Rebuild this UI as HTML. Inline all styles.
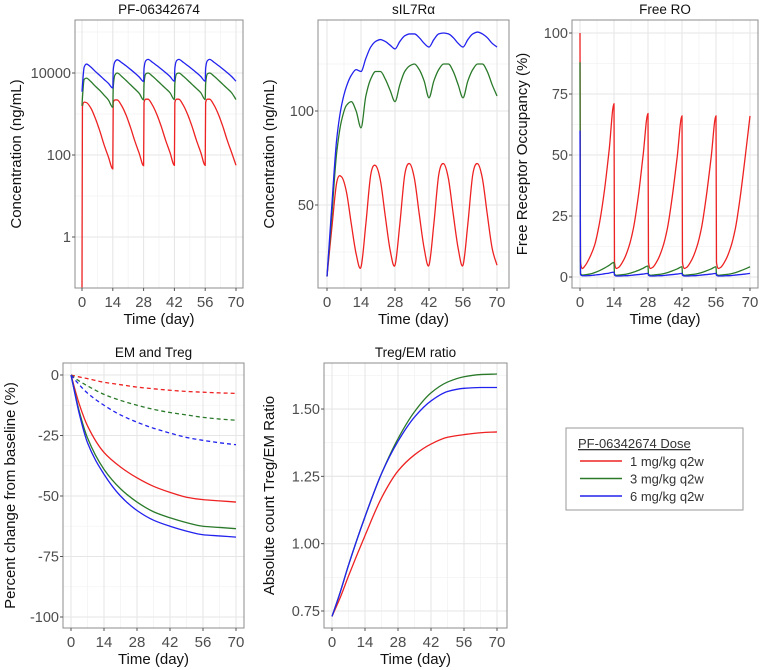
<!DOCTYPE html>
<html><head><meta charset="utf-8"><style>
body{margin:0;background:#fff;}
svg{display:block;font-family:"Liberation Sans",Arial,sans-serif;}
</style></head><body>
<svg id="chart" width="768" height="670" viewBox="0 0 768 670"></svg>
<script>
// ---------- data ----------
const doseLabels = ["1 mg/kg q2w","3 mg/kg q2w","6 mg/kg q2w"];
const xTicks = [0,14,28,42,56,70];
// PK and RO shared time grid
const tPK = [0,0.2,1,2,4,6,8,10,12, 14,14.2,15,16,18,20,22,24,26, 28,28.2,29,30,32,34,36,38,40, 42,42.2,43,44,46,48,50,52,54, 56,56.2,57,58,60,62,64,66,68, 70];
const pkRed = [0.05,1500,1950,1900,1400,800,400,180,90, 46,1900,2200,2200,1600,950,480,220,110, 55,1900,2300,2300,1650,980,500,230,115, 56,1900,2300,2300,1650,980,500,230,115, 56,1900,2300,2300,1650,980,500,230,115, 56];
const pkGreen = [1570,2500,7000,7500,6200,4800,3800,2900,2200, 1450,4500,9000,10000,8300,6600,5200,4100,3200, 2200,5500,9500,10000,8400,6700,5300,4200,3300, 2250,5500,9500,10000,8400,6700,5300,4200,3300, 2250,5500,9500,10000,8400,6700,5300,4200,3300, 2250];
const pkBlue = [3500,5000,14000,16500,14000,11000,8800,7000,5600, 4300,12000,19000,21000,18000,15000,12300,10000,8000, 6200,13000,20000,21500,18300,15200,12500,10200,8200, 6300,13000,20000,21500,18300,15200,12500,10200,8200, 6300,13000,20000,21500,18300,15200,12500,10200,8200, 6300];
const roRed = [100,6,3.5,4.5,8,13,22,35,52, 71,6,3.5,4,7,12,20,33,50, 67,6,3.5,4,7,12,20,33,49, 66,6,3.5,4,7,12,20,33,49, 66,6,3.5,4,7,12,20,33,49, 66];
const roGreen = [88,1.5,0.8,0.9,1.2,1.8,2.6,3.6,4.8, 6,1.2,0.7,0.8,1,1.4,2,2.7,3.6, 4.5,1.1,0.7,0.8,1,1.3,1.8,2.5,3.3, 4.2,1.1,0.7,0.8,1,1.3,1.8,2.5,3.3, 4.2,1.1,0.7,0.8,1,1.3,1.8,2.5,3.3, 4.2];
const roBlue = [60,1,0.5,0.5,0.6,0.8,1,1.3,1.6, 2,0.8,0.4,0.4,0.5,0.6,0.8,1,1.2, 1.5,0.7,0.4,0.4,0.5,0.6,0.8,1,1.2, 1.5,0.7,0.4,0.4,0.5,0.6,0.8,1,1.2, 1.5,0.7,0.4,0.4,0.5,0.6,0.8,1,1.2, 1.5];
// sIL7Ra, every 2 days
const tS = [0,2,4,6,8,10,12,14,16,18,20,22,24,26,28,30,32,34,36,38,40,42,44,46,48,50,52,54,56,58,60,62,64,66,68,70];
const sRed = [12,38,62,65,57,40,24, 17,40,66,71,63,44,26, 18,40,66,72,64,45,27, 18,40,66,72,64,45,27, 18,40,66,72,64,45,27, 18];
const sGreen = [12,45,78,95,103,105,100, 91,108,117,121,121,117,111, 105,114,121,124,125,122,116, 107,116,122,125,125,121,114, 107,116,122,125,125,121,114, 108];
const sBlue = [12,50,85,103,113,119,122, 121,128,134,137,138,137,135, 133,137,140,141,141,139,136, 134,138,141,141.5,141,139,136, 134,138,141,142,141,139,136, 134];
// cells
const tC = [0,3.5,7,14,21,28,35,42,49,56,63,70];
const emRed = [0,-12,-21,-32,-38,-42.5,-46,-48.5,-50.5,-51.5,-52,-52.5];
const emGreen = [0,-15,-26,-39,-47,-52.5,-56.5,-59,-61,-62.5,-63,-63.5];
const emBlue = [0,-16,-28,-41,-50,-56,-60,-62.5,-64.5,-66,-66.5,-67];
const tregRed = [0,-0.8,-1.5,-3,-4,-5,-5.7,-6.3,-6.8,-7.1,-7.4,-7.6];
const tregGreen = [0,-2.5,-4.5,-8,-10.5,-12.5,-14.2,-15.5,-16.5,-17.5,-18.2,-18.7];
const tregBlue = [0,-4,-7.5,-12.5,-16.5,-19.5,-22,-24,-25.8,-27,-28,-28.8];
const ratioRed = [0.73,0.80,0.88,1.03,1.17,1.27,1.33,1.37,1.395,1.405,1.412,1.415];
const ratioGreen = [0.73,0.82,0.92,1.10,1.26,1.39,1.49,1.56,1.60,1.62,1.628,1.63];
const ratioBlue = [0.73,0.82,0.92,1.10,1.26,1.38,1.47,1.53,1.565,1.577,1.58,1.58];

const COLS = ["#ee2222","#2a7a2a","#2222ee"];
const NS = "http://www.w3.org/2000/svg";
const svg = document.getElementById("chart");
function mk(tag, attrs, parent){const e=document.createElementNS(NS,tag);for(const k in attrs)e.setAttribute(k,attrs[k]);(parent||svg).appendChild(e);return e;}

function monoPath(pts){
  const n=pts.length; if(n<2) return "";
  const dx=[],s=[],m=[];
  for(let i=0;i<n-1;i++){dx[i]=pts[i+1][0]-pts[i][0];s[i]=(pts[i+1][1]-pts[i][1])/dx[i];}
  m[0]=s[0];m[n-1]=s[n-2];
  for(let i=1;i<n-1;i++){ if(s[i-1]*s[i]<=0) m[i]=0; else { const w1=2*dx[i]+dx[i-1], w2=dx[i]+2*dx[i-1]; m[i]=(w1+w2)/(w1/s[i-1]+w2/s[i]); } }
  let d="M"+pts[0][0].toFixed(2)+","+pts[0][1].toFixed(2);
  for(let i=0;i<n-1;i++){const h=dx[i];
    d+=" C"+(pts[i][0]+h/3).toFixed(2)+","+(pts[i][1]+m[i]*h/3).toFixed(2)+" "+(pts[i+1][0]-h/3).toFixed(2)+","+(pts[i+1][1]-m[i+1]*h/3).toFixed(2)+" "+pts[i+1][0].toFixed(2)+","+pts[i+1][1].toFixed(2);}
  return d;
}
function crPath(pts){
  let d="M"+pts[0][0].toFixed(2)+","+pts[0][1].toFixed(2);
  for(let i=0;i<pts.length-1;i++){
    const p0=pts[Math.max(0,i-1)],p1=pts[i],p2=pts[i+1],p3=pts[Math.min(pts.length-1,i+2)];
    d+=" C"+(p1[0]+(p2[0]-p0[0])/6).toFixed(2)+","+(p1[1]+(p2[1]-p0[1])/6).toFixed(2)+" "+(p2[0]-(p3[0]-p1[0])/6).toFixed(2)+","+(p2[1]-(p3[1]-p1[1])/6).toFixed(2)+" "+p2[0].toFixed(2)+","+p2[1].toFixed(2);
  }
  return d;
}

let clipId=0;
function panel(cfg){
  const g=mk("g",{});
  
  
  const [x0,y0,x1,y1]=cfg.box;
  const X=t=>cfg.xa+(t/70)*(cfg.xb-cfg.xa);
  cfg.yMinor.forEach(v=>{const y=cfg.Y(v);mk("line",{x1:x0,x2:x1,y1:y,y2:y,stroke:"#f3f3f3","stroke-width":0.8},g);});
  [7,21,35,49,63].forEach(t=>{mk("line",{x1:X(t),x2:X(t),y1:y0,y2:y1,stroke:"#f3f3f3","stroke-width":0.8},g);});
  cfg.yTicks.forEach(v=>{const y=cfg.Y(v);mk("line",{x1:x0,x2:x1,y1:y,y2:y,stroke:"#e6e6e6","stroke-width":1.1},g);});
  xTicks.forEach(t=>{mk("line",{x1:X(t),x2:X(t),y1:y0,y2:y1,stroke:"#e6e6e6","stroke-width":1.1},g);});
  const cid="c"+(clipId++);
  const cp=mk("clipPath",{id:cid},g); mk("rect",{x:x0,y:y0,width:x1-x0,height:y1-y0},cp);
  const lg=mk("g",{"clip-path":"url(#"+cid+")"},g);
  cfg.series.forEach(sr=>{
    const pts=sr.t.map((t,i)=>[X(t),cfg.Y(sr.v[i])]);
    const p=mk("path",{d:sr.smooth?crPath(pts):monoPath(pts),fill:"none",stroke:COLS[sr.c],"stroke-width":1.3},lg);
    if(sr.dash) p.setAttribute("stroke-dasharray","4,3");
    
    
  });
  mk("rect",{x:x0,y:y0,width:x1-x0,height:y1-y0,fill:"none",stroke:"#8c8c8c","stroke-width":1},g);
  cfg.yTicks.forEach((v,i)=>{const y=cfg.Y(v);
    mk("line",{x1:x0-3,x2:x0,y1:y,y2:y,stroke:"#555","stroke-width":1},g);
    const tx=mk("text",{x:x0-4,y:y+5,"text-anchor":"end","font-size":14.5,fill:"#4d4d4d"},g);tx.textContent=cfg.yLabels[i];
    
    
  });
  xTicks.forEach(t=>{const x=X(t);
    mk("line",{x1:x,x2:x,y1:y1,y2:y1+3,stroke:"#555","stroke-width":1},g);
    const tx=mk("text",{x:x,y:y1+19,"text-anchor":"middle","font-size":15,fill:"#4d4d4d"},g);tx.textContent=t;
    
    
  });
  const tt=mk("text",{x:(x0+x1)/2,y:y0-6,"text-anchor":"middle","font-size":13.5,fill:"#111"},g);tt.textContent=cfg.title;
  
  
  const xt=mk("text",{x:(x0+x1)/2,y:y1+36,"text-anchor":"middle","font-size":15,fill:"#111"},g);xt.textContent="Time (day)";
  
  
  const yt=mk("text",{x:0,y:0,"text-anchor":"middle","font-size":15,fill:"#111",transform:"translate("+cfg.ytx+","+((y0+y1)/2)+") rotate(-90)"},g);yt.textContent=cfg.ytitle;
  
  
}

panel({name:"pk-panel",title:"PF-06342674",box:[75,20,243,288],xa:82,xb:236,
  Y:v=>73-(Math.log10(v)-4)*41, yTicks:[1,100,10000], yLabels:["1","100","10000"], yMinor:[10,1000,100000],
  ytx:21, ytitle:"Concentration (ng/mL)",
  series:[{t:tPK,v:pkRed,c:0,name:"pk-1mg"},{t:tPK,v:pkGreen,c:1,name:"pk-3mg"},{t:tPK,v:pkBlue,c:2,name:"pk-6mg"}]});
panel({name:"sil7ra-panel",title:"sIL7R\u03b1",box:[318,20,509,288],xa:327,xb:497,
  Y:v=>205-(v-50)*1.88, yTicks:[50,100], yLabels:["50","100"], yMinor:[25,75,125],
  ytx:274, ytitle:"Concentration (ng/mL)",
  series:[{t:tS,v:sRed,c:0,smooth:1,name:"sil7ra-1mg"},{t:tS,v:sGreen,c:1,name:"sil7ra-3mg"},{t:tS,v:sBlue,c:2,name:"sil7ra-6mg"}]});
panel({name:"ro-panel",title:"Free RO",box:[572,20,758,288],xa:580,xb:750,
  Y:v=>277-v*2.44, yTicks:[0,25,50,75,100], yLabels:["0","25","50","75","100"], yMinor:[12.5,37.5,62.5,87.5],
  ytx:527, ytitle:"Free Receptor Occupancy (%)",
  series:[{t:tPK,v:roRed,c:0,name:"ro-1mg"},{t:tPK,v:roGreen,c:1,name:"ro-3mg"},{t:tPK,v:roBlue,c:2,name:"ro-6mg"}]});
panel({name:"em-treg-panel",title:"EM and Treg",box:[63,363,244,628],xa:71,xb:236,
  Y:v=>375-v*2.42, yTicks:[0,-25,-50,-75,-100], yLabels:["0","-25","-50","-75","-100"], yMinor:[-12.5,-37.5,-62.5,-87.5],
  ytx:15, ytitle:"Percent change from baseline (%)",
  series:[{t:tC,v:tregRed,c:0,dash:1,name:"treg-1mg"},{t:tC,v:tregGreen,c:1,dash:1,name:"treg-3mg"},{t:tC,v:tregBlue,c:2,dash:1,name:"treg-6mg"},
          {t:tC,v:emRed,c:0,name:"em-1mg"},{t:tC,v:emGreen,c:1,name:"em-3mg"},{t:tC,v:emBlue,c:2,name:"em-6mg"}]});
panel({name:"ratio-panel",title:"Treg/EM ratio",box:[324,363,507,628],xa:332,xb:497,
  Y:v=>611-(v-0.75)*269.3, yTicks:[0.75,1,1.25,1.5], yLabels:["0.75","1.00","1.25","1.50"], yMinor:[0.875,1.125,1.375,1.625],
  ytx:274, ytitle:"Absolute count Treg/EM Ratio",
  series:[{t:tC,v:ratioRed,c:0,name:"ratio-1mg"},{t:tC,v:ratioGreen,c:1,name:"ratio-3mg"},{t:tC,v:ratioBlue,c:2,name:"ratio-6mg"}]});

const lg=mk("g",{});


mk("rect",{x:566,y:428,width:177,height:82,fill:"#fff",stroke:"#999","stroke-width":1},lg);
const lt=mk("text",{x:578,y:448,"font-size":13,fill:"#333","text-decoration":"underline"},lg);lt.textContent="PF-06342674 Dose";


doseLabels.forEach((lab,i)=>{const y=461+i*17.5;
  mk("line",{x1:580,x2:622,y1:y,y2:y,stroke:COLS[i],"stroke-width":1.4},lg);
  const t=mk("text",{x:630,y:y+5,"font-size":13,fill:"#333"},lg);t.textContent=lab;
  
  
});
</script>
</body></html>
